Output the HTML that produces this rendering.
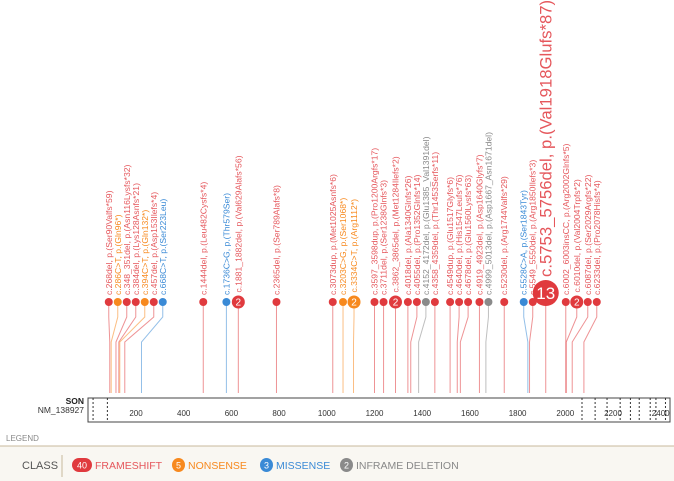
<!DOCTYPE html>
<html><head><meta charset="utf-8"><style>
body{margin:0;background:#fff;font-family:"Liberation Sans",sans-serif;}
svg{display:block}
</style></head><body>
<svg width="674" height="481">
<rect x="0" y="446" width="674" height="35" fill="#f9f7f2"/>
<line x1="0" y1="446" x2="674" y2="446" stroke="#c8b89c"/>
<g id="marks"></g>
<g id="axis"></g>
<text x="6" y="441" font-size="8" fill="#888">LEGEND</text>
<text x="22" y="469" font-size="11" fill="#555">CLASS</text>
<line x1="62" y1="455" x2="62" y2="477" stroke="#c8b89c"/>
<g id="legend"></g>
</svg>
<script>
const labels=["c.268del, p.(Ser90Valfs*59)","c.286C>T, p.(Gln96*)","c.348_351del, p.(Asn116Lysfs*32)","c.384del, p.(Lys128Asnfs*21)","c.394C>T, p.(Gln132*)","c.457del, p.(Asp153Ilefs*4)","c.668C>T, p.(Ser223Leu)","c.1444del, p.(Leu482Cysfs*4)","c.1736C>G, p.(Thr579Ser)","c.1881_1882del, p.(Val629Alafs*56)","c.2365del, p.(Ser789Alafs*8)","c.3073dup, p.(Met1025Asnfs*6)","c.3203C>G, p.(Ser1068*)","c.3334C>T, p.(Arg1112*)","c.3597_3598dup, p.(Pro1200Argfs*17)","c.3711del, p.(Ser1238Glnfs*3)","c.3862_3865del, p.(Met1284Ilefs*2)","c.4018del, p.(Ala1340Glnfs*26)","c.4055del, p.(Pro1352Glnfs*14)","c.4152_4172del, p.(Glu1385_Val1391del)","c.4358_4359del, p.(Thr1453Serfs*11)","c.4549dup, p.(Glu1517Glyfs*6)","c.4640del, p.(His1547Leufs*76)","c.4678del, p.(Glu1560Lysfs*63)","c.4919_4923del, p.(Asp1640Glyfs*7)","c.4999_5013del, p.(Asp1667_Asn1671del)","c.5230del, p.(Arg1744Valfs*29)","c.5528C>A, p.(Ser1843Tyr)","c.5549_5550del, p.(Arg1850Ilefs*3)","c.5753_5756del, p.(Val1918Glufs*87)","c.6002_6003insCC, p.(Arg2002Glnfs*5)","c.6010del, p.(Val2004Trpfs*2)","c.6087del, p.(Ser2029Argfs*22)","c.6233del, p.(Pro2078Hisfs*4)"];
const positions=[90,96,116,128,132,153,223,482,579,629,789,1025,1068,1112,1200,1238,1288,1340,1352,1385,1453,1517,1547,1560,1640,1667,1744,1843,1850,1918,2002,2004,2029,2078];
const classes=["F","N","F","F","N","F","M","F","M","F","F","F","N","N","F","F","F","F","F","I","F","F","F","F","F","I","F","M","F","F","F","F","F","F"];
const counts=[1,1,1,1,1,1,1,1,1,2,1,1,1,2,1,1,2,1,1,1,1,1,1,1,1,1,1,1,1,13,1,2,1,1];
const ticks=[200,400,600,800,1000,1200,1400,1600,1800,2000,2200,2400];
const exonBounds=[20,80,2070,2125,2175,2230,2273,2310,2356,2380,2420];
const legendNames=["FRAMESHIFT","NONSENSE","MISSENSE","INFRAME DELETION"];
const legendCounts=[40,5,3,2];
const legendKeys=["F","N","M","I"];
const colors={F:"#e03a3e",N:"#f7891e",M:"#3a8ad6",I:"#8a8a8a"};
const textColors={F:"#e5575c",N:"#f7891e",M:"#3a8ad6",I:"#888"};
const NS="http://www.w3.org/2000/svg";
const x=aa=>88.3+aa*0.2385;
const headY=302, axisTop=398, axisBot=422;
function mk(t,a,p){const e=document.createElementNS(NS,t);for(const k in a)e.setAttribute(k,a[k]);p.appendChild(e);return e;}
const rad=c=>c>=10?13:c>1?6.5:4;
const half=c=>c>=10?8.5:c>1?6.5:4.5;
const n=positions.length;
const hx=[];
for(let i=0;i<n;i++){const d=x(positions[i]);hx[i]=i===0?d-1:Math.max(d,hx[i-1]+half(counts[i-1])+half(counts[i]));}
// anchor large hotspots at their true position, pushing neighbours left
for(let i=0;i<n;i++){if(counts[i]>=10){hx[i]=x(positions[i]);for(let j=i-1;j>=0;j--){hx[j]=Math.min(hx[j],hx[j+1]-half(counts[j])-half(counts[j+1]));}}}
const marks=document.getElementById('marks');
for(let i=0;i<n;i++){
  const c=classes[i],r=rad(counts[i]),cy=counts[i]>=10?293:headY;const ax=x(positions[i]);
  const g=mk('g',{},marks);
  
  
  const line=mk('polyline',{points:`${hx[i]},${cy} ${hx[i]},317 ${ax},342 ${ax},393`,fill:'none',stroke:colors[c],'stroke-opacity':0.55,'stroke-width':1},g);
  
  
  const ci=mk('circle',{cx:hx[i],cy:cy,r:r,fill:colors[c]},g);
  
  
  if(counts[i]>1){const t=mk('text',{x:hx[i],y:cy+(counts[i]>=10?6:3.5),'text-anchor':'middle',fill:'#fff','font-size':counts[i]>=10?17:10},g);t.textContent=counts[i];
    
    }
  const big=counts[i]>=10;
  const ly=cy-r-3, fs=big?16.7:8.6;
  const t=mk('text',{x:hx[i]+(big?6:3),y:ly,transform:`rotate(-90 ${hx[i]+(big?6:3)} ${ly})`,fill:textColors[c],'font-size':fs},g);
  t.textContent=labels[i];
  
  
}
const axis=document.getElementById('axis');
const box=mk('rect',{x:88,y:axisTop,width:582,height:axisBot-axisTop,fill:'#fff',stroke:'#444','stroke-width':1},axis);


exonBounds.forEach(b=>{const l=mk('line',{x1:x(b),x2:x(b),y1:axisTop,y2:axisBot,stroke:'#333','stroke-dasharray':'2,2'},axis);
  
  });
ticks.forEach(tk=>{const t=mk('text',{x:x(tk),y:416,'text-anchor':'middle','font-size':8,fill:'#333'},axis);t.textContent=tk;
  
  });
const s1=mk('text',{x:84,y:404,'text-anchor':'end','font-size':8.5,'font-weight':'bold',fill:'#222'},axis);s1.textContent='SON';


const s2=mk('text',{x:84,y:413,'text-anchor':'end','font-size':8.5,fill:'#333'},axis);s2.textContent='NM_138927';


const leg=document.getElementById('legend');
const lx=[72,172,260,340];
legendNames.forEach((nm,i)=>{const k=legendKeys[i];const g=mk('g',{},leg);
  
  
  const w=legendCounts[i]>=10?20:13;
  mk('rect',{x:lx[i],y:458,width:w,height:14,rx:7,fill:colors[k]},g);
  const c=mk('text',{x:lx[i]+w/2,y:468.5,'text-anchor':'middle','font-size':9,fill:'#fff'},g);c.textContent=legendCounts[i];
  const t=mk('text',{x:lx[i]+w+3,y:469,'font-size':10.5,fill:textColors[k]},g);t.textContent=nm;});
</script>
</body></html>
